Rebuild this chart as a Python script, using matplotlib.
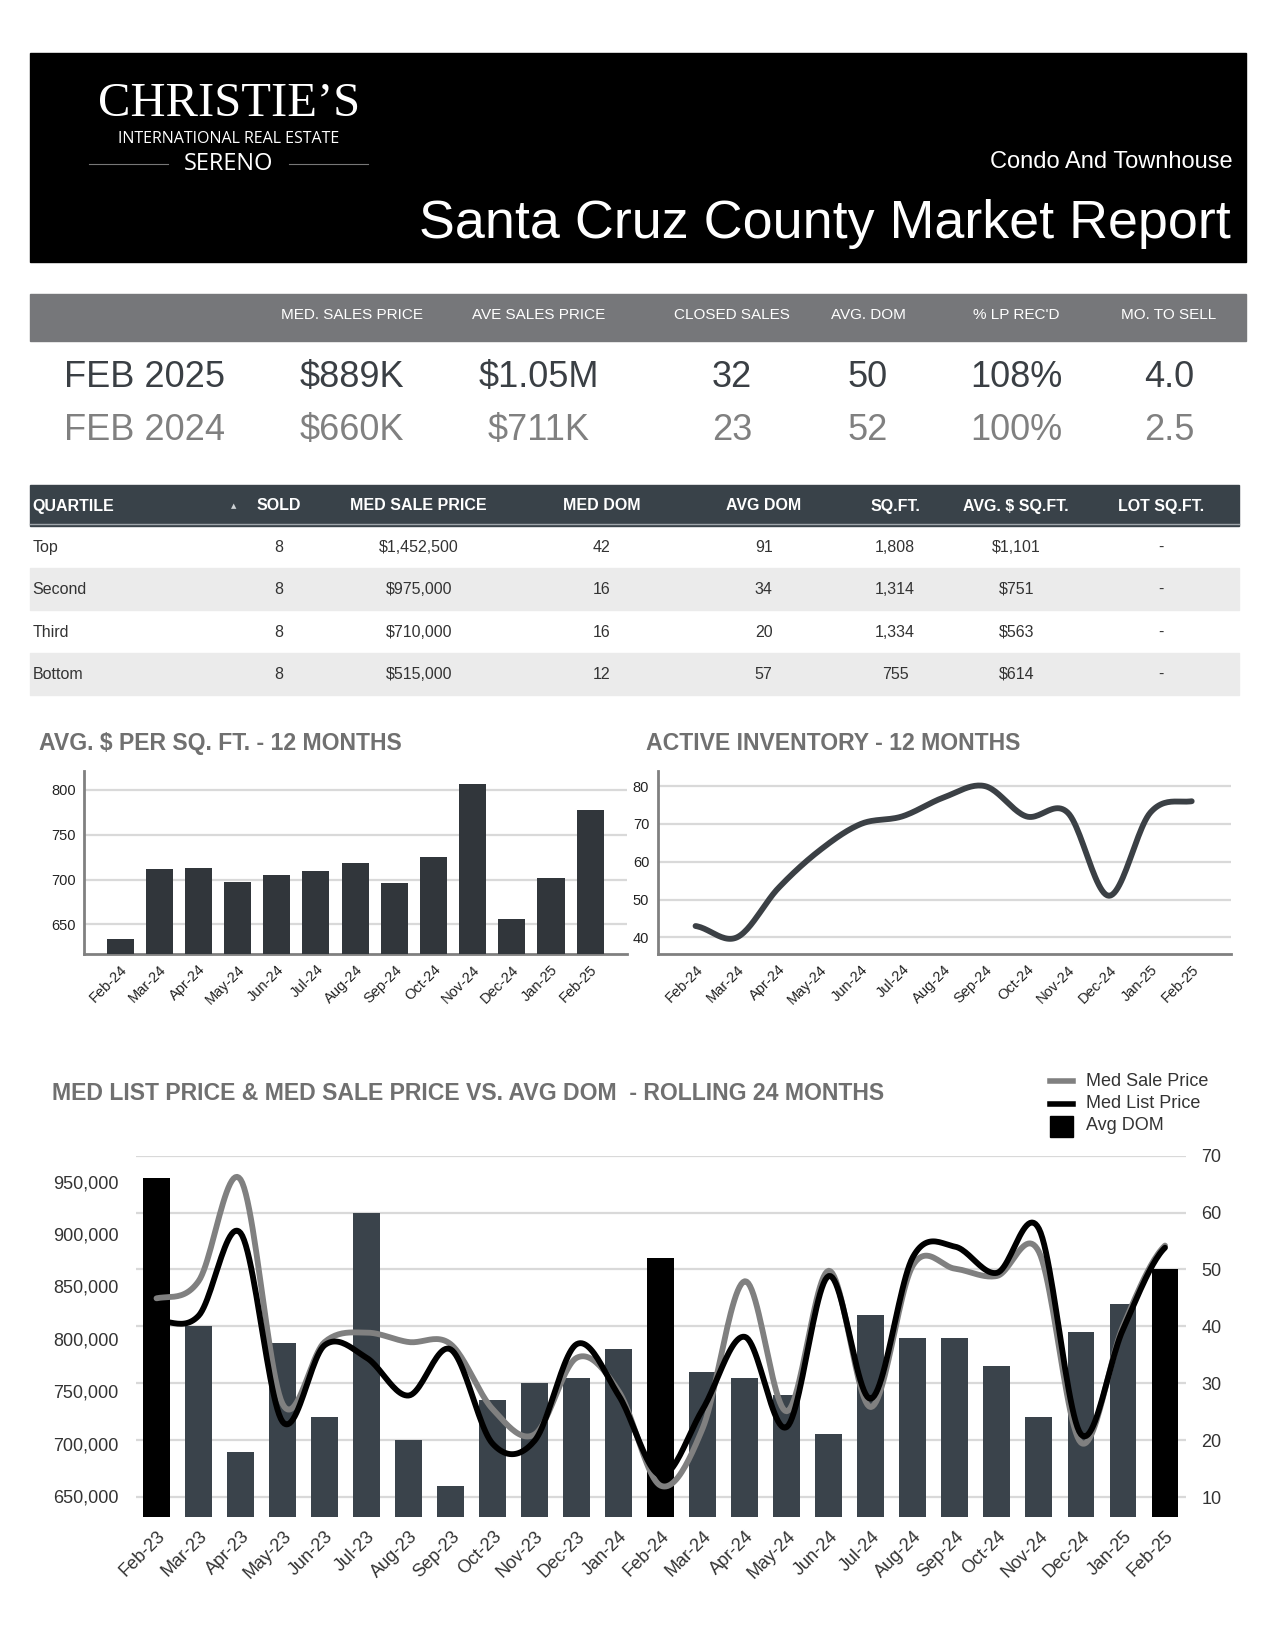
import numpy as np
import matplotlib
matplotlib.use("Agg")
import matplotlib.pyplot as plt
from matplotlib.patches import Rectangle

plt.rcParams['font.family'] = ['Liberation Sans', 'DejaVu Sans']

W, H = 1275, 1650

# summary numbers
kpi_headers = ["MED. SALES PRICE", "AVE SALES PRICE", "CLOSED SALES", "AVG. DOM", "% LP REC'D", "MO. TO SELL"]
kpi_2025 = ["$889K", "$1.05M", "32", "50", "108%", "4.0"]
kpi_2024 = ["$660K", "$711K", "23", "52", "100%", "2.5"]

# quartile table
q_headers = ["QUARTILE", "SOLD", "MED SALE PRICE", "MED DOM", "AVG DOM", "SQ.FT.", "AVG. $ SQ.FT.", "LOT SQ.FT."]
q_names = ["Top", "Second", "Third", "Bottom"]
q_sold = ["8", "8", "8", "8"]
q_med_price = ["$1,452,500", "$975,000", "$710,000", "$515,000"]
q_med_dom = ["42", "16", "16", "12"]
q_avg_dom = ["91", "34", "20", "57"]
q_sqft = ["1,808", "1,314", "1,334", "755"]
q_avg_ppsf = ["$1,101", "$751", "$563", "$614"]
q_lot = ["-", "-", "-", "-"]

# 12 month charts
months_12 = ["Feb-24", "Mar-24", "Apr-24", "May-24", "Jun-24", "Jul-24", "Aug-24",
             "Sep-24", "Oct-24", "Nov-24", "Dec-24", "Jan-25", "Feb-25"]
ppsf_12 = [634, 712, 713, 697, 705, 709, 718, 696, 725, 806, 656, 702, 777]
inventory_12 = [43, 40, 53, 63, 70, 72, 77, 80, 72, 73, 51, 73, 76]

# rolling 24 months
months_24 = ["Feb-23", "Mar-23", "Apr-23", "May-23", "Jun-23", "Jul-23", "Aug-23", "Sep-23",
             "Oct-23", "Nov-23", "Dec-23", "Jan-24", "Feb-24", "Mar-24", "Apr-24", "May-24",
             "Jun-24", "Jul-24", "Aug-24", "Sep-24", "Oct-24", "Nov-24", "Dec-24", "Jan-25", "Feb-25"]
avg_dom_24 = [66, 40, 18, 37, 24, 60, 20, 12, 27, 30, 31, 36, 52,
              32, 31, 28, 21, 42, 38, 38, 33, 24, 39, 44, 50]
med_sale_24 = [838700, 855000, 952000, 738000, 797000, 806000, 797000, 795000, 733000,
               709000, 782000, 750000, 660000, 715000, 855000, 731000, 865000, 735000,
               870000, 867000, 860000, 883000, 701000, 812000, 889000]
med_list_24 = [817000, 822000, 901000, 721000, 794000, 782000, 746000, 790000, 700000,
               703000, 795000, 746000, 670000, 733000, 802000, 716000, 860000, 743000,
               878000, 888000, 863000, 905000, 709000, 809000, 887000]
price_ticks = [650000, 700000, 750000, 800000, 850000, 900000, 950000]
dom_ticks = [10, 20, 30, 40, 50, 60, 70]

TITLE_GRAY = "#707070"
TXT = "#333333"


def px_rect(l, t, r, b):
    return [l / W, 1 - b / H, (r - l) / W, (b - t) / H]


def smooth(vals, n=24):
    # catmull-rom between the points, like excel's smoothed line
    v = np.asarray(vals, dtype=float)
    xs, ys = [], []
    for i in range(len(v) - 1):
        p0 = v[max(i - 1, 0)]
        p1, p2 = v[i], v[i + 1]
        p3 = v[min(i + 2, len(v) - 1)]
        t = np.linspace(0, 1, n, endpoint=False)
        y = 0.5 * (2 * p1 + (-p0 + p2) * t + (2 * p0 - 5 * p1 + 4 * p2 - p3) * t ** 2
                   + (-p0 + 3 * p1 - 3 * p2 + p3) * t ** 3)
        xs.append(i + t)
        ys.append(y)
    xs.append([len(v) - 1])
    ys.append([v[-1]])
    return np.concatenate(xs), np.concatenate(ys)


def style_small(ax):
    ax.grid(axis="y", color="#d9d9d9", lw=1.6, zorder=0)
    ax.set_xticks(np.arange(len(months_12)))
    ax.set_xticklabels(months_12, rotation=45, ha="right", rotation_mode="anchor")
    ax.tick_params(length=0, labelsize=10.5, colors="#222222", pad=6)
    for s in ["top", "right"]:
        ax.spines[s].set_visible(False)
    for s in ["left", "bottom"]:
        ax.spines[s].set_color("#808080")
        ax.spines[s].set_linewidth(2)


fig = plt.figure(figsize=(W / 100, H / 100), dpi=100)
bg = fig.add_axes([0, 0, 1, 1])
bg.set_xlim(0, W)
bg.set_ylim(H, 0)
bg.axis("off")

# header band
bg.add_patch(Rectangle((29.5, 52.5), 1216, 209.5, color="black"))
bg.text(229, 116, "CHRISTIE\u2019S", color="white", family="Liberation Serif",
        fontsize=35, ha="center", va="baseline")
bg.text(229, 139, "INTERNATIONAL REAL ESTATE", color="white", family="Open Sans",
        fontsize=11.5, ha="center", va="center")
bg.text(229, 164, "SERENO", color="white", family="Open Sans",
        fontsize=17, ha="center", va="center")
bg.plot([89, 168], [164, 164], color="#777777", lw=0.8)
bg.plot([289, 368], [164, 164], color="#777777", lw=0.8)
bg.text(1233, 168, "Condo And Townhouse", color="white", fontsize=17, ha="right", va="baseline")
bg.text(1231, 238, "Santa Cruz County Market Report", color="white", fontsize=38.8,
        ha="right", va="baseline")

# summary band
kpi_x = [352, 539, 732, 868, 1016, 1169]
bg.add_patch(Rectangle((29.5, 293.5), 1216, 47.5, color="#76777a"))
for x, lab in zip(kpi_x, kpi_headers):
    bg.text(x, 319, lab, color="white", fontsize=11, ha="center", va="baseline")
bg.text(144, 387, "FEB 2025", color="#3a3f44", fontsize=26, ha="center", va="baseline")
bg.text(144, 440, "FEB 2024", color="#808080", fontsize=26, ha="center", va="baseline")
for x, a, b in zip(kpi_x, kpi_2025, kpi_2024):
    bg.text(x, 387, a, color="#3a3f44", fontsize=26, ha="center", va="baseline")
    bg.text(x, 440, b, color="#808080", fontsize=26, ha="center", va="baseline")

# quartile table
bg.add_patch(Rectangle((29.5, 485), 1209.5, 41, color="#394249"))
bg.plot([29.5, 1239], [524, 524], color="#a0a6ab", lw=1)
row_top = [526, 568, 611, 653]
row_h = 42.2
for i, t in enumerate(row_top):
    if i % 2 == 1:
        bg.add_patch(Rectangle((29.5, t), 1209.5, row_h, color="#ebebeb"))
col_x = [32.6, 278.8, 418.7, 601.7, 763.7, 895.2, 1016.2, 1161.4]
for j, (x, lab) in enumerate(zip(col_x, q_headers)):
    bg.text(x, 506, lab, color="white", fontsize=11.5, fontweight="bold",
            ha="left" if j == 0 else "center", va="center")
bg.text(233.5, 506, "\u25b2", color="#cfd3d6", fontsize=5, ha="center", va="center",
        family=["DejaVu Sans"])
columns = [q_names, q_sold, q_med_price, q_med_dom, q_avg_dom, q_sqft, q_avg_ppsf, q_lot]
for i, t in enumerate(row_top):
    yc = t + row_h / 2
    for j, (x, col) in enumerate(zip(col_x, columns)):
        bg.text(x, yc, col[i], color=TXT, fontsize=11.5,
                ha="left" if j == 0 else "center", va="center")

# chart titles
bg.text(39, 750, "AVG. $ PER SQ. FT. - 12 MONTHS", color=TITLE_GRAY, fontsize=16.6,
        fontweight="bold", va="baseline")
bg.text(646, 750, "ACTIVE INVENTORY - 12 MONTHS", color=TITLE_GRAY, fontsize=16.6,
        fontweight="bold", va="baseline")
bg.text(51.5, 1100, "MED LIST PRICE & MED SALE PRICE VS. AVG DOM  - ROLLING 24 MONTHS",
        color=TITLE_GRAY, fontsize=16.6, fontweight="bold", va="baseline")

# avg $ per sq ft bars
x12 = np.arange(len(months_12))
ax1 = fig.add_axes(px_rect(84, 771, 627, 954))
ax1.bar(x12, ppsf_12, width=0.69, color="#31363b", zorder=3)
ax1.set_ylim(617, 821)
ax1.set_xlim(-0.92, 12.94)
ax1.set_yticks([650, 700, 750, 800])
style_small(ax1)

# active inventory line
ax2 = fig.add_axes(px_rect(657.5, 771, 1231, 954))
sx, sy = smooth(inventory_12)
ax2.plot(sx, sy, color="#3b4045", lw=4.2, solid_capstyle="round", zorder=3)
ax2.set_ylim(35.6, 84)
ax2.set_xlim(-0.92, 12.95)
ax2.set_yticks([40, 50, 60, 70, 80])
style_small(ax2)

# rolling 24 months: DOM bars + price lines
x24 = np.arange(len(months_24))
ax3 = fig.add_axes(px_rect(135.5, 1155.7, 1186, 1516.7))
bar_colors = ["black" if m.startswith("Feb") else "#3a434b" for m in months_24]
ax3.bar(x24, avg_dom_24, width=0.64, color=bar_colors, zorder=3)
ax3.set_ylim(6.54, 70)
ax3.set_xlim(-0.5, 24.5)
ax3.grid(axis="y", color="#d9d9d9", lw=1.6, zorder=0)
ax3.set_xticks(x24)
ax3.set_xticklabels(months_24, rotation=45, ha="right", rotation_mode="anchor")
for s in ax3.spines.values():
    s.set_visible(False)

ax4 = ax3.twinx()
sx, sy = smooth(med_sale_24)
ax4.plot(sx, sy, color="#808080", lw=4.2, solid_capstyle="round")
sx, sy = smooth(med_list_24)
ax4.plot(sx, sy, color="black", lw=4.2, solid_capstyle="round")
ax4.set_ylim(630450, 974700)
for s in ax4.spines.values():
    s.set_visible(False)

# twinx moved ticks around, so set sides after
ax3.yaxis.tick_right()
ax3.set_yticks(dom_ticks)
ax3.tick_params(axis="x", length=0, labelsize=13, colors=TXT, pad=8)
ax3.tick_params(axis="y", length=0, labelsize=13, colors=TXT, pad=11)
ax4.yaxis.tick_left()
ax4.set_yticks(price_ticks)
ax4.set_yticklabels([f"{v:,}" for v in price_ticks])
ax4.tick_params(axis="y", length=0, labelsize=13, colors=TXT, pad=12)

# legend
bg.plot([1050, 1073], [1081, 1081], color="#808080", lw=4)
bg.plot([1050, 1073], [1104, 1104], color="black", lw=4)
bg.add_patch(Rectangle((1050, 1116), 23, 21, color="black"))
for y, lab in zip([1081, 1104, 1126], ["Med Sale Price", "Med List Price", "Avg DOM"]):
    bg.text(1086, y, lab, color=TXT, fontsize=13, va="center")

fig.savefig("out.png", dpi=100, facecolor="white")
